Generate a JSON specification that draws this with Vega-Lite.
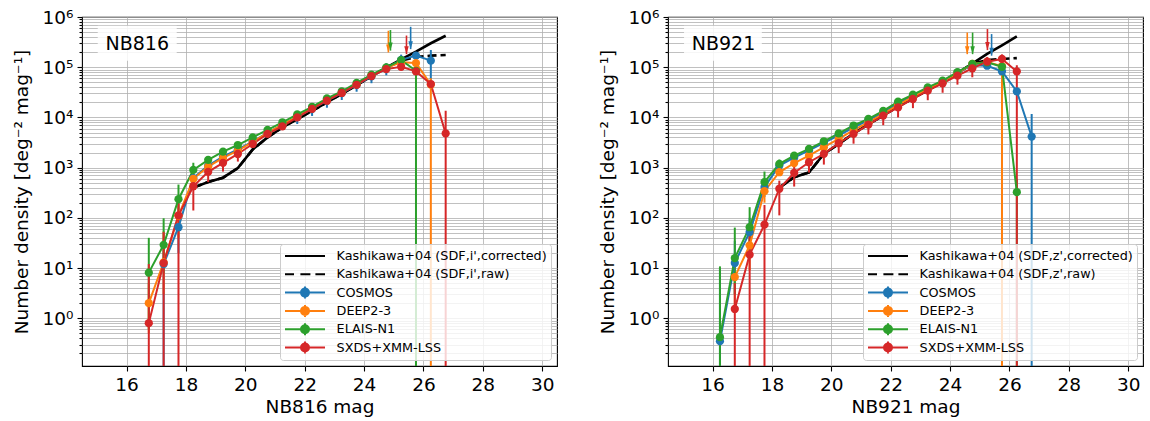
{
  "$schema": "https://vega.github.io/schema/vega-lite/v6.json",
  "padding": {"left": 11, "top": 7, "right": 0, "bottom": 0},
  "config": {
    "font": "DejaVu Sans",
    "view": {"stroke": "black", "strokeWidth": 1.1},
    "axis": {"domain": false, "grid": true, "gridColor": "#b0b0b0", "gridWidth": 0.8, "tickColor": "black", "tickWidth": 1.1, "tickSize": 5, "labelColor": "black", "titleColor": "black", "labelFont": "DejaVu Sans", "titleFont": "DejaVu Sans", "labelFontSize": 18.5, "titleFontSize": 18.5, "titleFontWeight": "normal", "labelPadding": 4, "labelOverlap": false},
    "legend": {"orient": "bottom-right", "offset": 6, "padding": 4, "fillColor": "rgba(255,255,255,0.8)", "strokeColor": "#cccccc", "cornerRadius": 3, "labelFont": "DejaVu Sans", "labelFontSize": 12.8, "labelColor": "black", "symbolSize": 1600, "symbolStrokeWidth": 2, "clipHeight": 16, "rowPadding": 2.3, "labelOffset": 10.6, "labelLimit": 400, "symbolOpacity": 1}
  },
  "datasets": {
    "counts": [
      {"b":"NB816","f":"COSMOS","m":17.25,"v":12,"lo":0.01,"hi":35},
      {"b":"NB816","f":"COSMOS","m":17.75,"v":65,"lo":20,"hi":110},
      {"b":"NB816","f":"COSMOS","m":18.25,"v":620},
      {"b":"NB816","f":"COSMOS","m":18.75,"v":1100},
      {"b":"NB816","f":"COSMOS","m":19.25,"v":1650},
      {"b":"NB816","f":"COSMOS","m":19.75,"v":2300},
      {"b":"NB816","f":"COSMOS","m":20.25,"v":3300},
      {"b":"NB816","f":"COSMOS","m":20.75,"v":5000},
      {"b":"NB816","f":"COSMOS","m":21.25,"v":7100},
      {"b":"NB816","f":"COSMOS","m":21.75,"v":10300,"lo":7400,"hi":13200},
      {"b":"NB816","f":"COSMOS","m":22.25,"v":14800,"lo":10700,"hi":18900},
      {"b":"NB816","f":"COSMOS","m":22.75,"v":21500,"lo":15600,"hi":27400},
      {"b":"NB816","f":"COSMOS","m":23.25,"v":30500,"lo":22200,"hi":38800},
      {"b":"NB816","f":"COSMOS","m":23.75,"v":44500,"lo":32500,"hi":56500},
      {"b":"NB816","f":"COSMOS","m":24.25,"v":66000,"lo":48000,"hi":84000},
      {"b":"NB816","f":"COSMOS","m":24.75,"v":95000,"lo":69000,"hi":121000},
      {"b":"NB816","f":"COSMOS","m":25.25,"v":140000,"lo":102000,"hi":178000},
      {"b":"NB816","f":"COSMOS","m":25.75,"v":170000},
      {"b":"NB816","f":"COSMOS","m":26.25,"v":135000,"lo":47000,"hi":220000},
      {"b":"NB816","f":"DEEP2-3","m":16.75,"v":2.0,"lo":0.5,"hi":5},
      {"b":"NB816","f":"DEEP2-3","m":17.25,"v":13,"lo":3,"hi":55},
      {"b":"NB816","f":"DEEP2-3","m":17.75,"v":110,"lo":40,"hi":190},
      {"b":"NB816","f":"DEEP2-3","m":18.25,"v":600},
      {"b":"NB816","f":"DEEP2-3","m":18.75,"v":1050},
      {"b":"NB816","f":"DEEP2-3","m":19.25,"v":1570},
      {"b":"NB816","f":"DEEP2-3","m":19.75,"v":2180},
      {"b":"NB816","f":"DEEP2-3","m":20.25,"v":3250},
      {"b":"NB816","f":"DEEP2-3","m":20.75,"v":4900},
      {"b":"NB816","f":"DEEP2-3","m":21.25,"v":7200},
      {"b":"NB816","f":"DEEP2-3","m":21.75,"v":10400},
      {"b":"NB816","f":"DEEP2-3","m":22.25,"v":15200},
      {"b":"NB816","f":"DEEP2-3","m":22.75,"v":22000},
      {"b":"NB816","f":"DEEP2-3","m":23.25,"v":31500},
      {"b":"NB816","f":"DEEP2-3","m":23.75,"v":46000},
      {"b":"NB816","f":"DEEP2-3","m":24.25,"v":68000},
      {"b":"NB816","f":"DEEP2-3","m":24.75,"v":97000},
      {"b":"NB816","f":"DEEP2-3","m":25.25,"v":125000},
      {"b":"NB816","f":"DEEP2-3","m":25.75,"v":121000},
      {"b":"NB816","f":"DEEP2-3","m":26.25,"v":45000,"lo":0.01,"hi":60000},
      {"b":"NB816","f":"ELAIS-N1","m":16.75,"v":8.1,"lo":0.6,"hi":40},
      {"b":"NB816","f":"ELAIS-N1","m":17.25,"v":29,"lo":8,"hi":98},
      {"b":"NB816","f":"ELAIS-N1","m":17.75,"v":235,"lo":100,"hi":460},
      {"b":"NB816","f":"ELAIS-N1","m":18.25,"v":900,"lo":650,"hi":1250},
      {"b":"NB816","f":"ELAIS-N1","m":18.75,"v":1430},
      {"b":"NB816","f":"ELAIS-N1","m":19.25,"v":2090},
      {"b":"NB816","f":"ELAIS-N1","m":19.75,"v":2820},
      {"b":"NB816","f":"ELAIS-N1","m":20.25,"v":4000},
      {"b":"NB816","f":"ELAIS-N1","m":20.75,"v":5650},
      {"b":"NB816","f":"ELAIS-N1","m":21.25,"v":8000},
      {"b":"NB816","f":"ELAIS-N1","m":21.75,"v":11500},
      {"b":"NB816","f":"ELAIS-N1","m":22.25,"v":16300},
      {"b":"NB816","f":"ELAIS-N1","m":22.75,"v":24000},
      {"b":"NB816","f":"ELAIS-N1","m":23.25,"v":33000},
      {"b":"NB816","f":"ELAIS-N1","m":23.75,"v":48500},
      {"b":"NB816","f":"ELAIS-N1","m":24.25,"v":70800},
      {"b":"NB816","f":"ELAIS-N1","m":24.75,"v":99000},
      {"b":"NB816","f":"ELAIS-N1","m":25.25,"v":138000},
      {"b":"NB816","f":"ELAIS-N1","m":25.75,"v":85000,"lo":0.01,"hi":100000},
      {"b":"NB816","f":"SXDS+XMM-LSS","m":16.75,"v":0.8,"lo":0.01,"hi":12},
      {"b":"NB816","f":"SXDS+XMM-LSS","m":17.25,"v":12.6,"lo":0.01,"hi":52},
      {"b":"NB816","f":"SXDS+XMM-LSS","m":17.75,"v":112,"lo":0.01,"hi":195},
      {"b":"NB816","f":"SXDS+XMM-LSS","m":18.25,"v":426,"lo":140,"hi":720},
      {"b":"NB816","f":"SXDS+XMM-LSS","m":18.75,"v":825,"lo":515,"hi":1135},
      {"b":"NB816","f":"SXDS+XMM-LSS","m":19.25,"v":1245,"lo":835,"hi":1650},
      {"b":"NB816","f":"SXDS+XMM-LSS","m":19.75,"v":1870,"lo":1320,"hi":2400},
      {"b":"NB816","f":"SXDS+XMM-LSS","m":20.25,"v":2960},
      {"b":"NB816","f":"SXDS+XMM-LSS","m":20.75,"v":4700},
      {"b":"NB816","f":"SXDS+XMM-LSS","m":21.25,"v":6650},
      {"b":"NB816","f":"SXDS+XMM-LSS","m":21.75,"v":10000},
      {"b":"NB816","f":"SXDS+XMM-LSS","m":22.25,"v":14800},
      {"b":"NB816","f":"SXDS+XMM-LSS","m":22.75,"v":21500},
      {"b":"NB816","f":"SXDS+XMM-LSS","m":23.25,"v":30700},
      {"b":"NB816","f":"SXDS+XMM-LSS","m":23.75,"v":44700},
      {"b":"NB816","f":"SXDS+XMM-LSS","m":24.25,"v":66800},
      {"b":"NB816","f":"SXDS+XMM-LSS","m":24.75,"v":91600},
      {"b":"NB816","f":"SXDS+XMM-LSS","m":25.25,"v":102000},
      {"b":"NB816","f":"SXDS+XMM-LSS","m":25.75,"v":82500},
      {"b":"NB816","f":"SXDS+XMM-LSS","m":26.25,"v":46300},
      {"b":"NB816","f":"SXDS+XMM-LSS","m":26.75,"v":4800,"lo":0.01,"hi":13600},

      {"b":"NB921","f":"COSMOS","m":16.25,"v":0.35,"lo":0.01,"hi":10},
      {"b":"NB921","f":"COSMOS","m":16.75,"v":12.6,"lo":3,"hi":35},
      {"b":"NB921","f":"COSMOS","m":17.25,"v":52,"lo":20,"hi":100},
      {"b":"NB921","f":"COSMOS","m":17.75,"v":410,"lo":260,"hi":600},
      {"b":"NB921","f":"COSMOS","m":18.25,"v":1100},
      {"b":"NB921","f":"COSMOS","m":18.75,"v":1580},
      {"b":"NB921","f":"COSMOS","m":19.25,"v":2200},
      {"b":"NB921","f":"COSMOS","m":19.75,"v":3100},
      {"b":"NB921","f":"COSMOS","m":20.25,"v":4400},
      {"b":"NB921","f":"COSMOS","m":20.75,"v":6300},
      {"b":"NB921","f":"COSMOS","m":21.25,"v":8800},
      {"b":"NB921","f":"COSMOS","m":21.75,"v":12500},
      {"b":"NB921","f":"COSMOS","m":22.25,"v":19000},
      {"b":"NB921","f":"COSMOS","m":22.75,"v":27000},
      {"b":"NB921","f":"COSMOS","m":23.25,"v":38000},
      {"b":"NB921","f":"COSMOS","m":23.75,"v":52000},
      {"b":"NB921","f":"COSMOS","m":24.25,"v":78000},
      {"b":"NB921","f":"COSMOS","m":24.75,"v":110000},
      {"b":"NB921","f":"COSMOS","m":25.25,"v":107000},
      {"b":"NB921","f":"COSMOS","m":25.75,"v":82500},
      {"b":"NB921","f":"COSMOS","m":26.25,"v":33000},
      {"b":"NB921","f":"COSMOS","m":26.75,"v":4150,"lo":0.01,"hi":11700},
      {"b":"NB921","f":"DEEP2-3","m":16.75,"v":6.6,"lo":1.5,"hi":18},
      {"b":"NB921","f":"DEEP2-3","m":17.25,"v":28.3,"lo":9,"hi":60},
      {"b":"NB921","f":"DEEP2-3","m":17.75,"v":340,"lo":200,"hi":500},
      {"b":"NB921","f":"DEEP2-3","m":18.25,"v":810},
      {"b":"NB921","f":"DEEP2-3","m":18.75,"v":1230},
      {"b":"NB921","f":"DEEP2-3","m":19.25,"v":1740},
      {"b":"NB921","f":"DEEP2-3","m":19.75,"v":2550},
      {"b":"NB921","f":"DEEP2-3","m":20.25,"v":3730},
      {"b":"NB921","f":"DEEP2-3","m":20.75,"v":5600},
      {"b":"NB921","f":"DEEP2-3","m":21.25,"v":8000},
      {"b":"NB921","f":"DEEP2-3","m":21.75,"v":11800},
      {"b":"NB921","f":"DEEP2-3","m":22.25,"v":17800},
      {"b":"NB921","f":"DEEP2-3","m":22.75,"v":25500},
      {"b":"NB921","f":"DEEP2-3","m":23.25,"v":36500},
      {"b":"NB921","f":"DEEP2-3","m":23.75,"v":51000},
      {"b":"NB921","f":"DEEP2-3","m":24.25,"v":76000},
      {"b":"NB921","f":"DEEP2-3","m":24.75,"v":116000},
      {"b":"NB921","f":"DEEP2-3","m":25.25,"v":127000},
      {"b":"NB921","f":"DEEP2-3","m":25.75,"v":105000,"lo":0.01,"hi":130000},
      {"b":"NB921","f":"ELAIS-N1","m":16.25,"v":0.42,"lo":0.01,"hi":10.8},
      {"b":"NB921","f":"ELAIS-N1","m":16.75,"v":15.8,"lo":3,"hi":64},
      {"b":"NB921","f":"ELAIS-N1","m":17.25,"v":65,"lo":20,"hi":163},
      {"b":"NB921","f":"ELAIS-N1","m":17.75,"v":515,"lo":320,"hi":835},
      {"b":"NB921","f":"ELAIS-N1","m":18.25,"v":1190,"lo":950,"hi":1450},
      {"b":"NB921","f":"ELAIS-N1","m":18.75,"v":1740},
      {"b":"NB921","f":"ELAIS-N1","m":19.25,"v":2360},
      {"b":"NB921","f":"ELAIS-N1","m":19.75,"v":3350},
      {"b":"NB921","f":"ELAIS-N1","m":20.25,"v":4800},
      {"b":"NB921","f":"ELAIS-N1","m":20.75,"v":6900},
      {"b":"NB921","f":"ELAIS-N1","m":21.25,"v":9350},
      {"b":"NB921","f":"ELAIS-N1","m":21.75,"v":13500},
      {"b":"NB921","f":"ELAIS-N1","m":22.25,"v":20600},
      {"b":"NB921","f":"ELAIS-N1","m":22.75,"v":28300},
      {"b":"NB921","f":"ELAIS-N1","m":23.25,"v":39700},
      {"b":"NB921","f":"ELAIS-N1","m":23.75,"v":53800},
      {"b":"NB921","f":"ELAIS-N1","m":24.25,"v":80000},
      {"b":"NB921","f":"ELAIS-N1","m":24.75,"v":116000},
      {"b":"NB921","f":"ELAIS-N1","m":25.25,"v":125000},
      {"b":"NB921","f":"ELAIS-N1","m":25.75,"v":102000},
      {"b":"NB921","f":"ELAIS-N1","m":26.25,"v":325,"lo":0.01,"hi":600},
      {"b":"NB921","f":"SXDS+XMM-LSS","m":16.75,"v":1.53,"lo":0.01,"hi":5},
      {"b":"NB921","f":"SXDS+XMM-LSS","m":17.25,"v":18.5,"lo":0.01,"hi":50},
      {"b":"NB921","f":"SXDS+XMM-LSS","m":17.75,"v":73,"lo":0.01,"hi":180},
      {"b":"NB921","f":"SXDS+XMM-LSS","m":18.25,"v":380,"lo":112,"hi":550},
      {"b":"NB921","f":"SXDS+XMM-LSS","m":18.75,"v":790,"lo":420,"hi":1150},
      {"b":"NB921","f":"SXDS+XMM-LSS","m":19.25,"v":1280,"lo":800,"hi":1750},
      {"b":"NB921","f":"SXDS+XMM-LSS","m":19.75,"v":1880,"lo":1150,"hi":2600},
      {"b":"NB921","f":"SXDS+XMM-LSS","m":20.25,"v":3060,"lo":1950,"hi":4100},
      {"b":"NB921","f":"SXDS+XMM-LSS","m":20.75,"v":4700,"lo":3000,"hi":6400},
      {"b":"NB921","f":"SXDS+XMM-LSS","m":21.25,"v":7200,"lo":4600,"hi":9800},
      {"b":"NB921","f":"SXDS+XMM-LSS","m":21.75,"v":10900,"lo":7000,"hi":14800},
      {"b":"NB921","f":"SXDS+XMM-LSS","m":22.25,"v":15800,"lo":10000,"hi":21500},
      {"b":"NB921","f":"SXDS+XMM-LSS","m":22.75,"v":23300,"lo":15300,"hi":31000},
      {"b":"NB921","f":"SXDS+XMM-LSS","m":23.25,"v":34100,"lo":22000,"hi":46000},
      {"b":"NB921","f":"SXDS+XMM-LSS","m":23.75,"v":47800,"lo":31000,"hi":64000},
      {"b":"NB921","f":"SXDS+XMM-LSS","m":24.25,"v":67900,"lo":45000,"hi":90000},
      {"b":"NB921","f":"SXDS+XMM-LSS","m":24.75,"v":95000,"lo":63000,"hi":127000},
      {"b":"NB921","f":"SXDS+XMM-LSS","m":25.25,"v":129000,"lo":95000,"hi":160000},
      {"b":"NB921","f":"SXDS+XMM-LSS","m":25.75,"v":146000,"lo":110000,"hi":180000},
      {"b":"NB921","f":"SXDS+XMM-LSS","m":26.25,"v":82500,"lo":0.01,"hi":110000}
    ],
    "kashi": [
      {"b":"NB816","t":"corr","m":18.25,"v":400},{"b":"NB816","t":"corr","m":18.75,"v":515},{"b":"NB816","t":"corr","m":19.25,"v":630},{"b":"NB816","t":"corr","m":19.75,"v":980},{"b":"NB816","t":"corr","m":20.25,"v":2300},{"b":"NB816","t":"corr","m":20.75,"v":4000},{"b":"NB816","t":"corr","m":21.25,"v":6300},{"b":"NB816","t":"corr","m":21.75,"v":9300},{"b":"NB816","t":"corr","m":22.25,"v":13500},{"b":"NB816","t":"corr","m":22.75,"v":19900},{"b":"NB816","t":"corr","m":23.25,"v":29500},{"b":"NB816","t":"corr","m":23.75,"v":44000},{"b":"NB816","t":"corr","m":24.25,"v":66000},{"b":"NB816","t":"corr","m":24.75,"v":98000},{"b":"NB816","t":"corr","m":25.25,"v":143000},{"b":"NB816","t":"corr","m":25.75,"v":205000},{"b":"NB816","t":"corr","m":26.25,"v":300000},{"b":"NB816","t":"corr","m":26.75,"v":423000},
      {"b":"NB816","t":"raw","m":18.25,"v":400},{"b":"NB816","t":"raw","m":18.75,"v":515},{"b":"NB816","t":"raw","m":19.25,"v":630},{"b":"NB816","t":"raw","m":19.75,"v":980},{"b":"NB816","t":"raw","m":20.25,"v":2300},{"b":"NB816","t":"raw","m":20.75,"v":4000},{"b":"NB816","t":"raw","m":21.25,"v":6300},{"b":"NB816","t":"raw","m":21.75,"v":9300},{"b":"NB816","t":"raw","m":22.25,"v":13500},{"b":"NB816","t":"raw","m":22.75,"v":19900},{"b":"NB816","t":"raw","m":23.25,"v":29500},{"b":"NB816","t":"raw","m":23.75,"v":44000},{"b":"NB816","t":"raw","m":24.25,"v":66000},{"b":"NB816","t":"raw","m":24.75,"v":98000},{"b":"NB816","t":"raw","m":25.25,"v":135000},{"b":"NB816","t":"raw","m":25.75,"v":160000},{"b":"NB816","t":"raw","m":26.25,"v":170000},{"b":"NB816","t":"raw","m":26.75,"v":175000},
      {"b":"NB921","t":"corr","m":18.25,"v":400},{"b":"NB921","t":"corr","m":18.75,"v":645},{"b":"NB921","t":"corr","m":19.25,"v":800},{"b":"NB921","t":"corr","m":19.75,"v":1880},{"b":"NB921","t":"corr","m":20.25,"v":2960},{"b":"NB921","t":"corr","m":20.75,"v":4800},{"b":"NB921","t":"corr","m":21.25,"v":7300},{"b":"NB921","t":"corr","m":21.75,"v":11000},{"b":"NB921","t":"corr","m":22.25,"v":16500},{"b":"NB921","t":"corr","m":22.75,"v":24000},{"b":"NB921","t":"corr","m":23.25,"v":35000},{"b":"NB921","t":"corr","m":23.75,"v":51000},{"b":"NB921","t":"corr","m":24.25,"v":76000},{"b":"NB921","t":"corr","m":24.75,"v":118000},{"b":"NB921","t":"corr","m":25.25,"v":184000},{"b":"NB921","t":"corr","m":25.75,"v":272000},{"b":"NB921","t":"corr","m":26.25,"v":410000},
      {"b":"NB921","t":"raw","m":18.25,"v":400},{"b":"NB921","t":"raw","m":18.75,"v":645},{"b":"NB921","t":"raw","m":19.25,"v":800},{"b":"NB921","t":"raw","m":19.75,"v":1880},{"b":"NB921","t":"raw","m":20.25,"v":2960},{"b":"NB921","t":"raw","m":20.75,"v":4800},{"b":"NB921","t":"raw","m":21.25,"v":7300},{"b":"NB921","t":"raw","m":21.75,"v":11000},{"b":"NB921","t":"raw","m":22.25,"v":16500},{"b":"NB921","t":"raw","m":22.75,"v":24000},{"b":"NB921","t":"raw","m":23.25,"v":35000},{"b":"NB921","t":"raw","m":23.75,"v":51000},{"b":"NB921","t":"raw","m":24.25,"v":76000},{"b":"NB921","t":"raw","m":24.75,"v":118000},{"b":"NB921","t":"raw","m":25.25,"v":138000},{"b":"NB921","t":"raw","m":25.75,"v":146000},{"b":"NB921","t":"raw","m":26.25,"v":152000}
    ],
    "arrows": [
      {"b":"NB816","f":"COSMOS","m":25.57,"top":638000,"tip":229000},
      {"b":"NB816","f":"DEEP2-3","m":24.82,"top":532000,"tip":197000},
      {"b":"NB816","f":"ELAIS-N1","m":24.89,"top":550000,"tip":214000},
      {"b":"NB816","f":"SXDS+XMM-LSS","m":25.43,"top":427000,"tip":182000},
      {"b":"NB921","f":"COSMOS","m":25.40,"top":457000,"tip":170000},
      {"b":"NB921","f":"DEEP2-3","m":24.58,"top":490000,"tip":182000},
      {"b":"NB921","f":"ELAIS-N1","m":24.76,"top":490000,"tip":182000},
      {"b":"NB921","f":"SXDS+XMM-LSS","m":25.26,"top":575000,"tip":219000}
    ],
    "labels": [{"b":"NB816"},{"b":"NB921"}]
  },
  "spacing": 39,
  "resolve": {"scale": {"fill": "independent", "stroke": "independent", "shape": "independent"}, "legend": {"fill": "independent", "stroke": "independent", "shape": "independent"}},
  "hconcat": [
    {
      "width": 475, "height": 349,
      "layer": [
        {"data": {"name": "labels"}, "transform": [{"filter": "datum.b == 'NB816'"}],
         "mark": {"type": "rect", "fill": "white", "opacity": 0.85},
         "encoding": {"x": {"datum": 15.03, "type": "quantitative", "title": "NB816 mag", "scale": {"domain": [14.5, 30.5], "nice": false, "zero": false}, "axis": {"values": [16,18,20,22,24,26,28,30]}}, "x2": {"datum": 17.69},
           "y": {"datum": 668000, "type": "quantitative", "scale": {"type": "log", "domain": [0.112, 1000000], "nice": false}, "title": "Number density [deg⁻² mag⁻¹]",
             "axis": {"values": [0.2,0.3,0.4,0.5,0.6,0.7,0.8,0.9,1,2,3,4,5,6,7,8,9,10,20,30,40,50,60,70,80,90,100,200,300,400,500,600,700,800,900,1000,2000,3000,4000,5000,6000,7000,8000,9000,10000,20000,30000,40000,50000,60000,70000,80000,90000,100000,200000,300000,400000,500000,600000,700000,800000,900000,1000000],
               "labelExpr": "abs(log(datum.value)/LN10 - round(log(datum.value)/LN10)) < 1e-6 ? '10' + ['⁰','¹','²','³','⁴','⁵','⁶'][round(log(datum.value)/LN10)] : ''",
               "tickSize": {"condition": {"test": "abs(log(datum.value)/LN10 - round(log(datum.value)/LN10)) < 1e-6", "value": 5}, "value": 3},
               "titlePadding": 11}},
           "y2": {"datum": 134000}}},
        {"data": {"name": "labels"}, "transform": [{"filter": "datum.b == 'NB816'"}],
         "mark": {"type": "text", "fontSize": 19, "font": "DejaVu Sans", "color": "black", "align": "center", "baseline": "middle"},
         "encoding": {"x": {"datum": 16.36, "type": "quantitative", "title": "NB816 mag"}, "y": {"datum": 293000, "type": "quantitative", "title": "Number density [deg⁻² mag⁻¹]"}, "text": {"field": "b"}}},
        {"data": {"name": "kashi"}, "transform": [{"filter": "datum.b == 'NB816' && datum.t == 'corr'"}],
         "mark": {"type": "line", "color": "black", "strokeWidth": 2.6, "clip": true},
         "encoding": {"x": {"field": "m", "type": "quantitative", "title": "NB816 mag"}, "y": {"field": "v", "type": "quantitative", "title": "Number density [deg⁻² mag⁻¹]"}}},
        {"data": {"name": "kashi"}, "transform": [{"filter": "datum.b == 'NB816' && datum.t == 'raw'"}],
         "mark": {"type": "line", "color": "black", "strokeWidth": 2.6, "strokeDash": [9, 4], "clip": true},
         "encoding": {"x": {"field": "m", "type": "quantitative", "title": "NB816 mag"}, "y": {"field": "v", "type": "quantitative", "title": "Number density [deg⁻² mag⁻¹]"}}},
        {"data": {"name": "counts"}, "transform": [{"filter": "datum.b == 'NB816'"}],
         "mark": {"type": "rule", "strokeWidth": 2, "clip": true},
         "encoding": {"x": {"field": "m", "type": "quantitative", "title": "NB816 mag"}, "y": {"field": "lo", "type": "quantitative", "title": "Number density [deg⁻² mag⁻¹]"}, "y2": {"field": "hi"},
           "color": {"field": "f", "type": "nominal", "scale": {"domain": ["COSMOS","DEEP2-3","ELAIS-N1","SXDS+XMM-LSS"], "range": ["#1f77b4","#ff7f0e","#2ca02c","#d62728"]}, "legend": null}}},
        {"data": {"name": "counts"}, "transform": [{"filter": "datum.b == 'NB816'"}],
         "mark": {"type": "line", "strokeWidth": 2, "clip": true},
         "encoding": {"x": {"field": "m", "type": "quantitative", "title": "NB816 mag"}, "y": {"field": "v", "type": "quantitative", "title": "Number density [deg⁻² mag⁻¹]"},
           "color": {"field": "f", "type": "nominal", "legend": null}}},
        {"data": {"name": "counts"}, "transform": [{"filter": "datum.b == 'NB816'"}],
         "mark": {"type": "point", "filled": true, "opacity": 1, "size": 68, "clip": true},
         "encoding": {"x": {"field": "m", "type": "quantitative", "title": "NB816 mag"}, "y": {"field": "v", "type": "quantitative", "title": "Number density [deg⁻² mag⁻¹]"},
           "color": {"field": "f", "type": "nominal", "legend": null}}},
        {"data": {"name": "arrows"}, "transform": [{"filter": "datum.b == 'NB816'"}],
         "mark": {"type": "rule", "strokeWidth": 1.6},
         "encoding": {"x": {"field": "m", "type": "quantitative", "title": "NB816 mag"}, "y": {"field": "top", "type": "quantitative", "title": "Number density [deg⁻² mag⁻¹]"}, "y2": {"field": "tip"},
           "color": {"field": "f", "type": "nominal", "legend": null}}},
        {"data": {"name": "arrows"}, "transform": [{"filter": "datum.b == 'NB816'"}],
         "mark": {"type": "point", "filled": true, "opacity": 1, "size": 256, "strokeWidth": 0, "shape": "M-0.28,-1L0.28,-1L0,0Z"},
         "encoding": {"x": {"field": "m", "type": "quantitative", "title": "NB816 mag"}, "y": {"field": "tip", "type": "quantitative", "title": "Number density [deg⁻² mag⁻¹]"},
           "color": {"field": "f", "type": "nominal", "legend": null}}},
        {"data": {"values": []},
         "mark": {"type": "point", "filled": true},
         "encoding": {
           "fill": {"field": "key", "type": "nominal", "scale": {"domain": ["Kashikawa+04 (SDF,i',corrected)","Kashikawa+04 (SDF,i',raw)","COSMOS","DEEP2-3","ELAIS-N1","SXDS+XMM-LSS"], "range": ["black","black","#1f77b4","#ff7f0e","#2ca02c","#d62728"]}, "legend": {"title": null}},
           "stroke": {"field": "key", "type": "nominal", "scale": {"domain": ["Kashikawa+04 (SDF,i',corrected)","Kashikawa+04 (SDF,i',raw)","COSMOS","DEEP2-3","ELAIS-N1","SXDS+XMM-LSS"], "range": ["black","black","#1f77b4","#ff7f0e","#2ca02c","#d62728"]}, "legend": {"title": null}},
           "shape": {"field": "key", "type": "nominal", "scale": {"domain": ["Kashikawa+04 (SDF,i',corrected)","Kashikawa+04 (SDF,i',raw)","COSMOS","DEEP2-3","ELAIS-N1","SXDS+XMM-LSS"], "range": ["M-1,0H1","M-1,0H-0.55M-0.23,0H0.27M0.52,0H1","M-1,0H1M0,-0.3V0.3M-0.2,0A0.2,0.2,0,1,0,0.2,0A0.2,0.2,0,1,0,-0.2,0","M-1,0H1M0,-0.3V0.3M-0.2,0A0.2,0.2,0,1,0,0.2,0A0.2,0.2,0,1,0,-0.2,0","M-1,0H1M0,-0.3V0.3M-0.2,0A0.2,0.2,0,1,0,0.2,0A0.2,0.2,0,1,0,-0.2,0","M-1,0H1M0,-0.3V0.3M-0.2,0A0.2,0.2,0,1,0,0.2,0A0.2,0.2,0,1,0,-0.2,0"]}, "legend": {"title": null}}
         }}
      ]
    },
    {
      "width": 475, "height": 349,
      "layer": [
        {"data": {"name": "labels"}, "transform": [{"filter": "datum.b == 'NB921'"}],
         "mark": {"type": "rect", "fill": "white", "opacity": 0.85},
         "encoding": {"x": {"datum": 15.04, "type": "quantitative", "title": "NB921 mag", "scale": {"domain": [14.5, 30.5], "nice": false, "zero": false}, "axis": {"values": [16,18,20,22,24,26,28,30]}}, "x2": {"datum": 17.66},
           "y": {"datum": 668000, "type": "quantitative", "scale": {"type": "log", "domain": [0.112, 1000000], "nice": false}, "title": "Number density [deg⁻² mag⁻¹]",
             "axis": {"values": [0.2,0.3,0.4,0.5,0.6,0.7,0.8,0.9,1,2,3,4,5,6,7,8,9,10,20,30,40,50,60,70,80,90,100,200,300,400,500,600,700,800,900,1000,2000,3000,4000,5000,6000,7000,8000,9000,10000,20000,30000,40000,50000,60000,70000,80000,90000,100000,200000,300000,400000,500000,600000,700000,800000,900000,1000000],
               "labelExpr": "abs(log(datum.value)/LN10 - round(log(datum.value)/LN10)) < 1e-6 ? '10' + ['⁰','¹','²','³','⁴','⁵','⁶'][round(log(datum.value)/LN10)] : ''",
               "tickSize": {"condition": {"test": "abs(log(datum.value)/LN10 - round(log(datum.value)/LN10)) < 1e-6", "value": 5}, "value": 3},
               "titlePadding": 11}},
           "y2": {"datum": 134000}}},
        {"data": {"name": "labels"}, "transform": [{"filter": "datum.b == 'NB921'"}],
         "mark": {"type": "text", "fontSize": 19, "font": "DejaVu Sans", "color": "black", "align": "center", "baseline": "middle"},
         "encoding": {"x": {"datum": 16.37, "type": "quantitative", "title": "NB921 mag"}, "y": {"datum": 293000, "type": "quantitative", "title": "Number density [deg⁻² mag⁻¹]"}, "text": {"field": "b"}}},
        {"data": {"name": "kashi"}, "transform": [{"filter": "datum.b == 'NB921' && datum.t == 'corr'"}],
         "mark": {"type": "line", "color": "black", "strokeWidth": 2.6, "clip": true},
         "encoding": {"x": {"field": "m", "type": "quantitative", "title": "NB921 mag"}, "y": {"field": "v", "type": "quantitative", "title": "Number density [deg⁻² mag⁻¹]"}}},
        {"data": {"name": "kashi"}, "transform": [{"filter": "datum.b == 'NB921' && datum.t == 'raw'"}],
         "mark": {"type": "line", "color": "black", "strokeWidth": 2.6, "strokeDash": [9, 4], "clip": true},
         "encoding": {"x": {"field": "m", "type": "quantitative", "title": "NB921 mag"}, "y": {"field": "v", "type": "quantitative", "title": "Number density [deg⁻² mag⁻¹]"}}},
        {"data": {"name": "counts"}, "transform": [{"filter": "datum.b == 'NB921'"}],
         "mark": {"type": "rule", "strokeWidth": 2, "clip": true},
         "encoding": {"x": {"field": "m", "type": "quantitative", "title": "NB921 mag"}, "y": {"field": "lo", "type": "quantitative", "title": "Number density [deg⁻² mag⁻¹]"}, "y2": {"field": "hi"},
           "color": {"field": "f", "type": "nominal", "scale": {"domain": ["COSMOS","DEEP2-3","ELAIS-N1","SXDS+XMM-LSS"], "range": ["#1f77b4","#ff7f0e","#2ca02c","#d62728"]}, "legend": null}}},
        {"data": {"name": "counts"}, "transform": [{"filter": "datum.b == 'NB921'"}],
         "mark": {"type": "line", "strokeWidth": 2, "clip": true},
         "encoding": {"x": {"field": "m", "type": "quantitative", "title": "NB921 mag"}, "y": {"field": "v", "type": "quantitative", "title": "Number density [deg⁻² mag⁻¹]"},
           "color": {"field": "f", "type": "nominal", "legend": null}}},
        {"data": {"name": "counts"}, "transform": [{"filter": "datum.b == 'NB921'"}],
         "mark": {"type": "point", "filled": true, "opacity": 1, "size": 68, "clip": true},
         "encoding": {"x": {"field": "m", "type": "quantitative", "title": "NB921 mag"}, "y": {"field": "v", "type": "quantitative", "title": "Number density [deg⁻² mag⁻¹]"},
           "color": {"field": "f", "type": "nominal", "legend": null}}},
        {"data": {"name": "arrows"}, "transform": [{"filter": "datum.b == 'NB921'"}],
         "mark": {"type": "rule", "strokeWidth": 1.6},
         "encoding": {"x": {"field": "m", "type": "quantitative", "title": "NB921 mag"}, "y": {"field": "top", "type": "quantitative", "title": "Number density [deg⁻² mag⁻¹]"}, "y2": {"field": "tip"},
           "color": {"field": "f", "type": "nominal", "legend": null}}},
        {"data": {"name": "arrows"}, "transform": [{"filter": "datum.b == 'NB921'"}],
         "mark": {"type": "point", "filled": true, "opacity": 1, "size": 256, "strokeWidth": 0, "shape": "M-0.28,-1L0.28,-1L0,0Z"},
         "encoding": {"x": {"field": "m", "type": "quantitative", "title": "NB921 mag"}, "y": {"field": "tip", "type": "quantitative", "title": "Number density [deg⁻² mag⁻¹]"},
           "color": {"field": "f", "type": "nominal", "legend": null}}},
        {"data": {"values": []},
         "mark": {"type": "point", "filled": true},
         "encoding": {
           "fill": {"field": "key", "type": "nominal", "scale": {"domain": ["Kashikawa+04 (SDF,z',corrected)","Kashikawa+04 (SDF,z',raw)","COSMOS","DEEP2-3","ELAIS-N1","SXDS+XMM-LSS"], "range": ["black","black","#1f77b4","#ff7f0e","#2ca02c","#d62728"]}, "legend": {"title": null}},
           "stroke": {"field": "key", "type": "nominal", "scale": {"domain": ["Kashikawa+04 (SDF,z',corrected)","Kashikawa+04 (SDF,z',raw)","COSMOS","DEEP2-3","ELAIS-N1","SXDS+XMM-LSS"], "range": ["black","black","#1f77b4","#ff7f0e","#2ca02c","#d62728"]}, "legend": {"title": null}},
           "shape": {"field": "key", "type": "nominal", "scale": {"domain": ["Kashikawa+04 (SDF,z',corrected)","Kashikawa+04 (SDF,z',raw)","COSMOS","DEEP2-3","ELAIS-N1","SXDS+XMM-LSS"], "range": ["M-1,0H1","M-1,0H-0.55M-0.23,0H0.27M0.52,0H1","M-1,0H1M0,-0.3V0.3M-0.2,0A0.2,0.2,0,1,0,0.2,0A0.2,0.2,0,1,0,-0.2,0","M-1,0H1M0,-0.3V0.3M-0.2,0A0.2,0.2,0,1,0,0.2,0A0.2,0.2,0,1,0,-0.2,0","M-1,0H1M0,-0.3V0.3M-0.2,0A0.2,0.2,0,1,0,0.2,0A0.2,0.2,0,1,0,-0.2,0","M-1,0H1M0,-0.3V0.3M-0.2,0A0.2,0.2,0,1,0,0.2,0A0.2,0.2,0,1,0,-0.2,0"]}, "legend": {"title": null}}
         }}
      ]
    }
  ]
}
